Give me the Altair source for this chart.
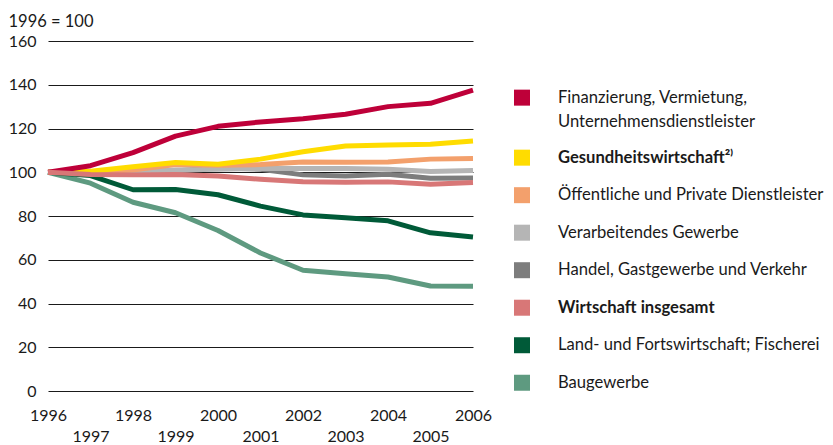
import altair as alt
import pandas as pd

years = list(range(1996, 2007))

categories = [
    "Finanzierung, Vermietung, Unternehmensdienstleister",
    "Gesundheitswirtschaft",
    "Öffentliche und Private Dienstleister",
    "Verarbeitendes Gewerbe",
    "Handel, Gastgewerbe und Verkehr",
    "Wirtschaft insgesamt",
    "Land- und Fortswirtschaft; Fischerei",
    "Baugewerbe",
]
legend_labels = [
    "Finanzierung, Vermietung,\nUnternehmensdienstleister",
    "Gesundheitswirtschaft²⁾",
    "Öffentliche und Private Dienstleister",
    "Verarbeitendes Gewerbe",
    "Handel, Gastgewerbe und Verkehr",
    "Wirtschaft insgesamt",
    "Land- und Fortswirtschaft; Fischerei",
    "Baugewerbe",
]
legend_bold = [False, True, False, False, False, True, False, False]
colors = ["#BE0039", "#FFDC00", "#F3A06C", "#B5B5B5", "#7D7D7D", "#D87777", "#005A38", "#5E9A80"]

fin = [100, 103, 109, 116.5, 121, 123, 124.5, 126.5, 130, 131.5, 137.5]
ges = [100, 100.5, 102.5, 104.5, 103.7, 106, 109.4, 112, 112.5, 112.8, 114.3]
oef = [100, 100, 101, 103.5, 103.2, 103.5, 104.7, 104.6, 104.7, 106, 106.3]
ver = [100, 100, 100.5, 101, 101.4, 101.7, 101.7, 101.7, 101.4, 100.3, 100.8]
han = [100, 100, 101, 100.6, 102.1, 101.4, 98.8, 98.3, 99.1, 97.3, 97.4]
wir = [100, 99, 98.8, 99, 98.3, 96.8, 95.7, 95.4, 95.6, 94.5, 95.3]
lan = [100, 98.5, 92, 92.1, 89.7, 84.5, 80.5, 79.2, 77.8, 72.3, 70.4]
bau = [100, 95, 86.3, 81.5, 73.4, 63.1, 55.2, 53.6, 52.1, 48, 47.9]

series = dict(zip(categories, [fin, ges, oef, ver, han, wir, lan, bau]))
draw_order = [
    "Baugewerbe",
    "Land- und Fortswirtschaft; Fischerei",
    "Handel, Gastgewerbe und Verkehr",
    "Verarbeitendes Gewerbe",
    "Öffentliche und Private Dienstleister",
    "Gesundheitswirtschaft",
    "Finanzierung, Vermietung, Unternehmensdienstleister",
    "Wirtschaft insgesamt",
]
rows = []
for cat in draw_order:
    for y, v in zip(years, series[cat]):
        rows.append({"cat": cat, "year": y, "value": v})
df = pd.DataFrame(rows)

FONT = "Lato"
color_scale = alt.Scale(domain=categories, range=colors)

lines = alt.Chart(df).mark_line(strokeWidth=5, strokeJoin="round", strokeCap="butt").encode(
    x=alt.X(
        "year:Q",
        scale=alt.Scale(domain=[1996, 2006], nice=False, zero=False),
        axis=alt.Axis(
            values=years,
            format="d",
            labelExpr="datum.value % 2 == 0 ? datum.label : ['', datum.label]",
            labelLineHeight=21,
            labelBaseline="top",
            labelPadding=16,
            labelFontSize=16,
            labelColor="#1a1a1a",
            labelOverlap=False,
            labelFlush=False,
            labelBound=False,
            domain=False,
            ticks=False,
            grid=False,
            title=None,
        ),
    ),
    y=alt.Y(
        "value:Q",
        scale=alt.Scale(domain=[0, 160], nice=False),
        axis=alt.Axis(
            values=[0, 20, 40, 60, 80, 100, 120, 140, 160],
            domain=False,
            ticks=False,
            grid=True,
            gridColor="#1a1a1a",
            gridWidth=1,
            labelFontSize=16,
            labelColor="#1a1a1a",
            labelPadding=12,
            title="1996 = 100",
            titleAngle=0,
            titleAlign="left",
            titleBaseline="alphabetic",
            titleX=-40,
            titleY=-15,
            titleFontSize=16.5,
            titleFontWeight="normal",
            titleColor="#1a1a1a",
        ),
    ),
    color=alt.Color("cat:N", scale=color_scale, legend=None),
    detail="cat:N",
).properties(width=425, height=350)

leg_df = pd.DataFrame({
    "cat": categories,
    "label": legend_labels,
    "bold": legend_bold,
    "idx": list(range(len(categories))),
})

leg_base = (
    alt.Chart(leg_df)
    .transform_calculate(
        parts="split(datum.label, '\\n')",
    )
    .transform_calculate(
        l1="datum.parts[0]",
        l2="length(datum.parts) > 1 ? datum.parts[1] : ''",
        w="length(datum.parts) > 1 ? 1.6 : 1",
    )
    .transform_window(cum="sum(w)", sort=[alt.SortField("idx")], frame=[None, 0])
    .transform_calculate(pos="datum.cum - datum.w")
)
ly = alt.Y("pos:Q", scale=alt.Scale(domain=[-1.51, 7.82], reverse=True, nice=False, zero=False), axis=None)

LFS = 16.6
squares = leg_base.mark_square(size=256, opacity=1, filled=True).encode(
    x=alt.value(10),
    y=ly,
    color=alt.Color("cat:N", scale=color_scale, legend=None),
)
text_normal = leg_base.transform_filter("!datum.bold").mark_text(
    align="left", baseline="middle", fontSize=LFS, color="#1a1a1a"
).encode(x=alt.value(46), y=ly, text="l1:N")
text_bold = leg_base.transform_filter("datum.bold").mark_text(
    align="left", baseline="middle", fontSize=LFS, fontWeight="bold", color="#1a1a1a"
).encode(x=alt.value(46), y=ly, text="l1:N")
text2 = leg_base.transform_filter("datum.l2 != ''").mark_text(
    align="left", baseline="middle", fontSize=LFS, dy=24, color="#1a1a1a"
).encode(x=alt.value(46), y=ly, text="l2:N")
legend = alt.layer(squares, text_normal, text_bold, text2).properties(width=300, height=350)

chart = (
    alt.hconcat(lines, legend, spacing=20)
    .properties(padding={"left": 0, "top": 5, "right": 0, "bottom": 0})
    .configure(font=FONT)
    .configure_view(stroke=None)
    .configure_axis(labelFont=FONT, titleFont=FONT)
)

chart.save("out.html", embed_options={"renderer": "svg", "actions": False})
